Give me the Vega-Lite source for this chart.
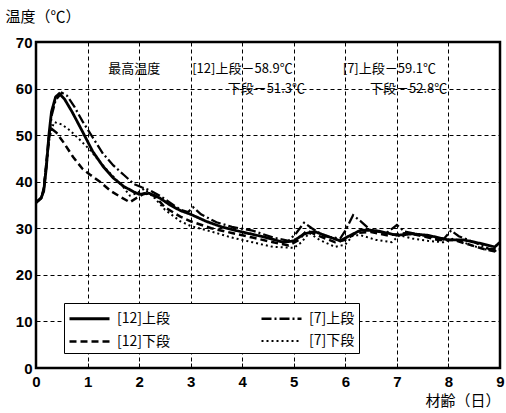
{
  "$schema": "https://vega.github.io/schema/vega-lite/v6.json",
  "width": 464,
  "height": 326,
  "padding": {"left": 36, "top": 42, "right": 6, "bottom": 45},
  "autosize": {"type": "none"},
  "background": "white",
  "config": {
    "view": {"stroke": "black", "strokeWidth": 2.5},
    "axis": {
      "grid": true, "gridColor": "black", "gridDash": [4, 3], "gridWidth": 1,
      "domain": false, "ticks": false,
      "labelFont": "Liberation Sans", "labelFontSize": 15, "labelFontWeight": "bold", "labelColor": "black",
      "titleFont": "Noto Sans CJK JP", "titleFontSize": 15, "titleFontWeight": "normal", "titleColor": "black"
    }
  },
  "layer": [
    {
      "data": {"values": [
        {"x":0,"y":35.5,"s":"[12]上段"},{"x":0.1,"y":36.5,"s":"[12]上段"},{"x":0.15,"y":38,"s":"[12]上段"},{"x":0.2,"y":43,"s":"[12]上段"},{"x":0.25,"y":50,"s":"[12]上段"},{"x":0.3,"y":55,"s":"[12]上段"},{"x":0.38,"y":58.2,"s":"[12]上段"},{"x":0.45,"y":58.9,"s":"[12]上段"},{"x":0.55,"y":57.8,"s":"[12]上段"},{"x":0.7,"y":55,"s":"[12]上段"},{"x":0.9,"y":50.8,"s":"[12]上段"},{"x":1.1,"y":46.5,"s":"[12]上段"},{"x":1.3,"y":43.3,"s":"[12]上段"},{"x":1.5,"y":40.8,"s":"[12]上段"},{"x":1.7,"y":39,"s":"[12]上段"},{"x":1.9,"y":37.8,"s":"[12]上段"},{"x":2.0,"y":37.3,"s":"[12]上段"},{"x":2.2,"y":37.5,"s":"[12]上段"},{"x":2.4,"y":36.5,"s":"[12]上段"},{"x":2.6,"y":35,"s":"[12]上段"},{"x":2.8,"y":33.8,"s":"[12]上段"},{"x":3.0,"y":33,"s":"[12]上段"},{"x":3.3,"y":31.5,"s":"[12]上段"},{"x":3.6,"y":30.3,"s":"[12]上段"},{"x":4.0,"y":29.2,"s":"[12]上段"},{"x":4.4,"y":28.2,"s":"[12]上段"},{"x":4.8,"y":27,"s":"[12]上段"},{"x":5.0,"y":27.3,"s":"[12]上段"},{"x":5.2,"y":28.8,"s":"[12]上段"},{"x":5.4,"y":29.3,"s":"[12]上段"},{"x":5.6,"y":28.5,"s":"[12]上段"},{"x":5.9,"y":27.3,"s":"[12]上段"},{"x":6.1,"y":28.5,"s":"[12]上段"},{"x":6.3,"y":29.6,"s":"[12]上段"},{"x":6.6,"y":29.5,"s":"[12]上段"},{"x":7.0,"y":28.5,"s":"[12]上段"},{"x":7.3,"y":28.8,"s":"[12]上段"},{"x":7.6,"y":28.5,"s":"[12]上段"},{"x":8.0,"y":27.5,"s":"[12]上段"},{"x":8.3,"y":27.5,"s":"[12]上段"},{"x":8.6,"y":26.8,"s":"[12]上段"},{"x":8.9,"y":26,"s":"[12]上段"},{"x":9.0,"y":27,"s":"[12]上段"},

        {"x":0,"y":35.5,"s":"[7]上段"},{"x":0.1,"y":36.5,"s":"[7]上段"},{"x":0.15,"y":38,"s":"[7]上段"},{"x":0.2,"y":43,"s":"[7]上段"},{"x":0.25,"y":49,"s":"[7]上段"},{"x":0.3,"y":54,"s":"[7]上段"},{"x":0.38,"y":57.5,"s":"[7]上段"},{"x":0.5,"y":59.1,"s":"[7]上段"},{"x":0.6,"y":58.5,"s":"[7]上段"},{"x":0.75,"y":56,"s":"[7]上段"},{"x":0.9,"y":53,"s":"[7]上段"},{"x":1.1,"y":49.5,"s":"[7]上段"},{"x":1.3,"y":46,"s":"[7]上段"},{"x":1.5,"y":43.5,"s":"[7]上段"},{"x":1.7,"y":41.5,"s":"[7]上段"},{"x":1.9,"y":39.5,"s":"[7]上段"},{"x":2.05,"y":38.8,"s":"[7]上段"},{"x":2.2,"y":38.2,"s":"[7]上段"},{"x":2.4,"y":37,"s":"[7]上段"},{"x":2.6,"y":35.5,"s":"[7]上段"},{"x":2.8,"y":34,"s":"[7]上段"},{"x":2.95,"y":33.5,"s":"[7]上段"},{"x":3.05,"y":34.5,"s":"[7]上段"},{"x":3.2,"y":33,"s":"[7]上段"},{"x":3.5,"y":31.3,"s":"[7]上段"},{"x":3.8,"y":30.3,"s":"[7]上段"},{"x":4.2,"y":29.5,"s":"[7]上段"},{"x":4.6,"y":28,"s":"[7]上段"},{"x":4.9,"y":27.3,"s":"[7]上段"},{"x":5.05,"y":29,"s":"[7]上段"},{"x":5.2,"y":31.2,"s":"[7]上段"},{"x":5.35,"y":30,"s":"[7]上段"},{"x":5.6,"y":28.3,"s":"[7]上段"},{"x":5.9,"y":27.8,"s":"[7]上段"},{"x":6.0,"y":29.5,"s":"[7]上段"},{"x":6.15,"y":32.8,"s":"[7]上段"},{"x":6.3,"y":31.5,"s":"[7]上段"},{"x":6.5,"y":29.5,"s":"[7]上段"},{"x":6.8,"y":29,"s":"[7]上段"},{"x":7.0,"y":30.7,"s":"[7]上段"},{"x":7.15,"y":29.3,"s":"[7]上段"},{"x":7.5,"y":28.5,"s":"[7]上段"},{"x":7.9,"y":27.6,"s":"[7]上段"},{"x":8.05,"y":29.5,"s":"[7]上段"},{"x":8.2,"y":28.3,"s":"[7]上段"},{"x":8.5,"y":27,"s":"[7]上段"},{"x":8.8,"y":25.5,"s":"[7]上段"},{"x":9.0,"y":25.5,"s":"[7]上段"},

        {"x":0,"y":35.5,"s":"[12]下段"},{"x":0.1,"y":36.5,"s":"[12]下段"},{"x":0.15,"y":38.5,"s":"[12]下段"},{"x":0.2,"y":44,"s":"[12]下段"},{"x":0.25,"y":49.5,"s":"[12]下段"},{"x":0.31,"y":51.3,"s":"[12]下段"},{"x":0.4,"y":50.5,"s":"[12]下段"},{"x":0.53,"y":48.5,"s":"[12]下段"},{"x":0.72,"y":45.3,"s":"[12]下段"},{"x":0.9,"y":42.8,"s":"[12]下段"},{"x":1.05,"y":41.5,"s":"[12]下段"},{"x":1.24,"y":40,"s":"[12]下段"},{"x":1.45,"y":38,"s":"[12]下段"},{"x":1.63,"y":36.8,"s":"[12]下段"},{"x":1.82,"y":35.6,"s":"[12]下段"},{"x":1.95,"y":36.5,"s":"[12]下段"},{"x":2.1,"y":37.5,"s":"[12]下段"},{"x":2.3,"y":37,"s":"[12]下段"},{"x":2.5,"y":34.5,"s":"[12]下段"},{"x":2.8,"y":32.5,"s":"[12]下段"},{"x":3.0,"y":31.5,"s":"[12]下段"},{"x":3.4,"y":30,"s":"[12]下段"},{"x":3.8,"y":29,"s":"[12]下段"},{"x":4.2,"y":28,"s":"[12]下段"},{"x":4.6,"y":27,"s":"[12]下段"},{"x":4.9,"y":26.3,"s":"[12]下段"},{"x":5.1,"y":27.5,"s":"[12]下段"},{"x":5.25,"y":29.5,"s":"[12]下段"},{"x":5.5,"y":28.3,"s":"[12]下段"},{"x":5.8,"y":27,"s":"[12]下段"},{"x":6.0,"y":27.5,"s":"[12]下段"},{"x":6.2,"y":29,"s":"[12]下段"},{"x":6.5,"y":29.2,"s":"[12]下段"},{"x":6.8,"y":28.5,"s":"[12]下段"},{"x":7.0,"y":28.7,"s":"[12]下段"},{"x":7.2,"y":29,"s":"[12]下段"},{"x":7.5,"y":28.3,"s":"[12]下段"},{"x":7.8,"y":27.5,"s":"[12]下段"},{"x":8.1,"y":27.5,"s":"[12]下段"},{"x":8.4,"y":26.5,"s":"[12]下段"},{"x":8.7,"y":25.5,"s":"[12]下段"},{"x":9.0,"y":24.8,"s":"[12]下段"},

        {"x":0,"y":35.5,"s":"[7]下段"},{"x":0.1,"y":36.5,"s":"[7]下段"},{"x":0.15,"y":38.5,"s":"[7]下段"},{"x":0.2,"y":44,"s":"[7]下段"},{"x":0.27,"y":50,"s":"[7]下段"},{"x":0.35,"y":52.8,"s":"[7]下段"},{"x":0.5,"y":52.3,"s":"[7]下段"},{"x":0.66,"y":51,"s":"[7]下段"},{"x":0.85,"y":49,"s":"[7]下段"},{"x":1.05,"y":46.8,"s":"[7]下段"},{"x":1.2,"y":44.8,"s":"[7]下段"},{"x":1.38,"y":42.5,"s":"[7]下段"},{"x":1.55,"y":40.5,"s":"[7]下段"},{"x":1.69,"y":38.9,"s":"[7]下段"},{"x":1.82,"y":37,"s":"[7]下段"},{"x":1.95,"y":37.5,"s":"[7]下段"},{"x":2.1,"y":38.5,"s":"[7]下段"},{"x":2.3,"y":36.5,"s":"[7]下段"},{"x":2.5,"y":34,"s":"[7]下段"},{"x":2.8,"y":31.5,"s":"[7]下段"},{"x":3.0,"y":30.5,"s":"[7]下段"},{"x":3.4,"y":29.3,"s":"[7]下段"},{"x":3.8,"y":28,"s":"[7]下段"},{"x":4.2,"y":27,"s":"[7]下段"},{"x":4.6,"y":26,"s":"[7]下段"},{"x":5.0,"y":25.8,"s":"[7]下段"},{"x":5.15,"y":27,"s":"[7]下段"},{"x":5.3,"y":29,"s":"[7]下段"},{"x":5.5,"y":27.5,"s":"[7]下段"},{"x":5.8,"y":26,"s":"[7]下段"},{"x":6.0,"y":26.5,"s":"[7]下段"},{"x":6.15,"y":28.5,"s":"[7]下段"},{"x":6.3,"y":28.5,"s":"[7]下段"},{"x":6.6,"y":27.5,"s":"[7]下段"},{"x":6.9,"y":27,"s":"[7]下段"},{"x":7.05,"y":28.5,"s":"[7]下段"},{"x":7.3,"y":27.8,"s":"[7]下段"},{"x":7.6,"y":27.3,"s":"[7]下段"},{"x":7.9,"y":27,"s":"[7]下段"},{"x":8.1,"y":27.8,"s":"[7]下段"},{"x":8.4,"y":26.5,"s":"[7]下段"},{"x":8.7,"y":25.5,"s":"[7]下段"},{"x":9.0,"y":25,"s":"[7]下段"}
      ]},
      "mark": {"type": "line", "color": "black", "clip": true},
      "encoding": {
        "x": {"field": "x", "type": "quantitative",
          "scale": {"domain": [0, 9], "nice": false, "zero": false},
          "axis": {"values": [0,0.5,1,1.5,2,2.5,3,3.5,4,4.5,5,5.5,6,6.5,7,7.5,8,8.5,9],
            "labelExpr": "datum.value % 1 ? '' : datum.label",
            "gridOpacity": {"condition": {"test": "datum.value % 1 != 0", "value": 0}, "value": 1},
            "ticks": true, "tickSize": -5, "tickColor": "black", "tickWidth": 1,
            "title": "材齢（日）", "titleX": 464, "titleY": 32, "titleAlign": "right", "titleBaseline": "middle", "labelPadding": 11, "labelFlush": false}},
        "y": {"field": "y", "type": "quantitative",
          "scale": {"domain": [0, 70], "nice": false},
          "axis": {"values": [0,10,20,30,40,50,60,70], "title": "温度（℃）", "titleAngle": 0, "titleX": -31, "titleY": -26, "titleAlign": "left", "titleBaseline": "middle", "labelPadding": 4, "labelFlush": false}},
        "strokeWidth": {"field": "s", "type": "nominal",
          "scale": {"domain": ["[12]上段", "[12]下段", "[7]上段", "[7]下段"], "range": [2.8, 2, 2.2, 1.8]},
          "legend": null},
        "strokeDash": {"field": "s", "type": "nominal",
          "scale": {"domain": ["[12]上段", "[12]下段", "[7]上段", "[7]下段"],
                    "range": [[1, 0], [7, 4], [10, 3, 2, 3], [2, 3]]},
          "legend": {"title": null, "orient": "none", "legendX": 28, "legendY": 261, "columns": 2,
            "symbolType": "M-2,0H2", "symbolSize": 400, "symbolOffset": 10, "symbolStrokeWidth": 2, "symbolStrokeColor": "black",
            "labelFont": "Noto Sans CJK JP", "labelFontSize": 14, "labelColor": "black", "labelOffset": 16,
            "columnPadding": 85, "rowPadding": 4, "padding": 4,
            "fillColor": "white", "strokeColor": "black", "labelLimit": 200}}
      }
    },
    {
      "data": {"values": [
        {"x": 1.40, "y": 64.2, "t": "最高温度"},
        {"x": 3.03, "y": 64.2, "t": "[12]上段－58.9℃"},
        {"x": 5.95, "y": 64.2, "t": "[7]上段－59.1℃"},
        {"x": 3.72, "y": 59.9, "t": "下段－51.3℃"},
        {"x": 6.48, "y": 59.9, "t": "下段－52.8℃"}
      ]},
      "mark": {"type": "text", "align": "left", "baseline": "middle", "font": "Noto Sans CJK JP", "fontSize": 13, "color": "black"},
      "encoding": {"x": {"field": "x", "type": "quantitative"}, "y": {"field": "y", "type": "quantitative"}, "text": {"field": "t"}}
    }
  ]
}
